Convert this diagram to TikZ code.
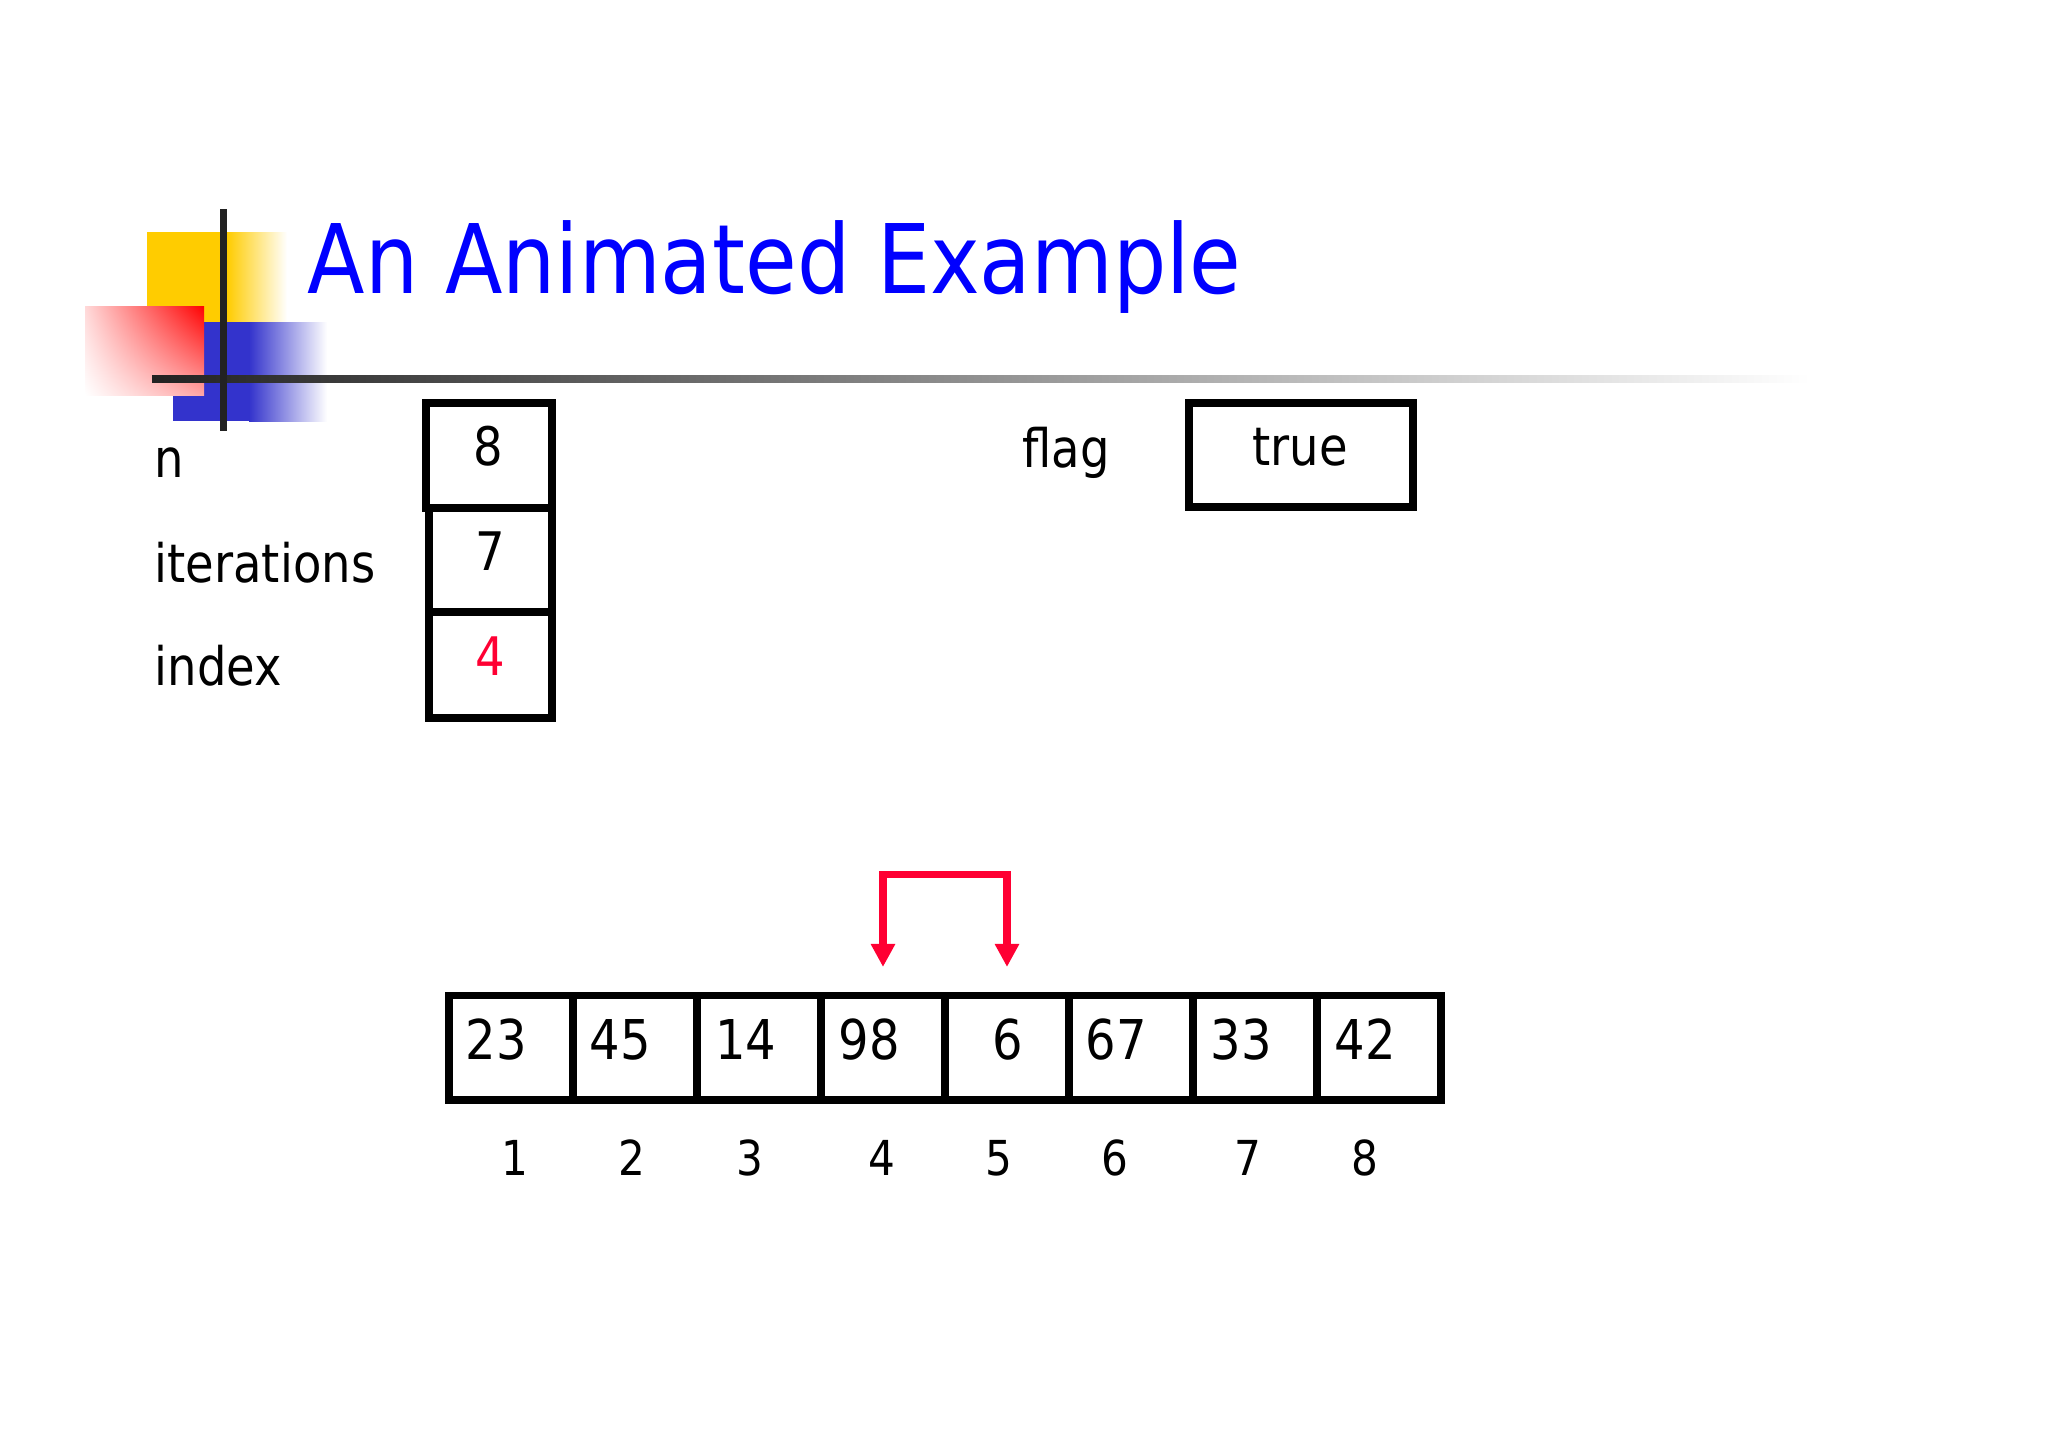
\documentclass[tikz,border=0pt]{standalone}
\usepackage{fontspec}
\setmainfont{DejaVu Sans}[FakeStretch=0.875]
\usetikzlibrary{arrows.meta,shadings}
\definecolor{ttlblue}{RGB}{0,0,255}
\definecolor{swapred}{RGB}{255,0,51}
\definecolor{logoyellow}{RGB}{255,204,0}
\definecolor{logoblue}{RGB}{51,51,204}
\definecolor{logored}{RGB}{255,0,0}
\definecolor{barcol}{RGB}{34,34,34}
\begin{document}
\begin{tikzpicture}[x=0.01cm,y=-0.01cm,
  box/.style={draw=black, line width=2.13pt, inner sep=0pt, outer sep=0pt},
  txt/.style={inner sep=0pt, anchor=base, font=\fontsize{15.1}{18}\selectfont},
  lbl/.style={txt, anchor=base west},
  arrtxt/.style={txt, font=\fontsize{15.6}{18}\selectfont},
  idx/.style={txt, font=\fontsize{13.7}{16}\selectfont},
  swaparrow/.style={draw=swapred, line width=2.13pt,
    {Triangle[width=0.23cm,length=0.23cm]}-{Triangle[width=0.23cm,length=0.23cm]}}
]
\fill[white] (0,0) rectangle (2048,1448);
\useasboundingbox (0,0) rectangle (2048,1448);

% logo
\fill[logoyellow] (147,232) rectangle (228,322);
\shade[left color=logoyellow, right color=white] (227,232) rectangle (287,322);
\fill[logoblue] (173,322) rectangle (250,421);
\shade[left color=logoblue, right color=white] (249,322) rectangle (327,421);
\shade[upper right=logored, upper left=logored!15, lower right=logored!35, lower left=white] (85,306) rectangle (204,395);
\shade[left color=barcol, middle color=barcol!75, right color=white] (152,375.5) rectangle (1810,382.5);
\fill[barcol] (219.5,209) rectangle (226.5,431);

% title
\node[inner sep=0pt, anchor=base west, font=\fontsize{27.3}{32}\selectfont, text=ttlblue] (title) at (307,293) {An Animated Example};

% labels
\node[lbl] (ln) at (154,477) {n};
\node[lbl] (lit) at (154,582) {iterations};
\node[lbl] (lix) at (154,685) {index};
\node[lbl] (lflag) at (1022,467) {flag};

% variable boxes
\node[box, minimum width=1.26cm, minimum height=1.05cm] (bn) at (489,455.5) {};
\node[box, minimum width=1.23cm, minimum height=1.04cm] (bit) at (490.5,560) {};
\node[box, minimum width=1.23cm, minimum height=1.06cm] (bix) at (490.5,665) {};
\node[box, minimum width=2.24cm, minimum height=1.04cm] (bflag) at (1301,455) {};
\node[txt] (vn) at (488,465) {8};
\node[txt] (vit) at (490,570) {7};
\node[txt, text=swapred] (vix) at (490,675) {4};
\node[txt] (vflag) at (1300,465) {true};

% array
\foreach \v/\tx/\ix [count=\i] in {23/496.5/515, 45/620.5/632, 14/746/749.5, 98/869.5/881.5, 6/1007.5/999, 67/1116.5/1115, 33/1241/1248, 42/1365/1365} {
  \node[box, minimum width=1.24cm, minimum height=1.045cm] (c\i) at (387+124*\i, 1047.75) {};
  \node[arrtxt] (v\i) at (\tx,1059) {\v};
  \node[idx] (i\i) at (\ix,1175) {\i};
}

% swap arrows
\coordinate (a4) at ([yshift=2.85mm]c4.north);
\coordinate (a5) at ([yshift=2.85mm]c5.north);
\draw[swaparrow] (a4) -- ++(0,-92.5) -| (a5);
\end{tikzpicture}
\end{document}
